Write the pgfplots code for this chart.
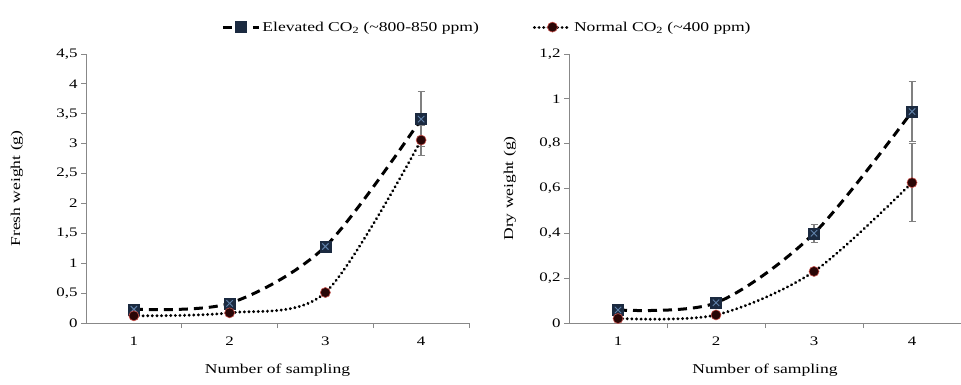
\documentclass[border=0pt]{standalone}
\usepackage{fontspec}
\setmainfont[FakeStretch=1.3]{Liberation Serif}
\usepackage{pgfplots}
\pgfplotsset{compat=1.18}

\definecolor{axgray}{HTML}{888888}
\definecolor{navy}{HTML}{1B2A40}
\definecolor{crossblue}{HTML}{5F80A8}
\definecolor{circfill}{HTML}{2A0606}
\definecolor{circedge}{HTML}{C8504A}
\definecolor{errgray}{HTML}{808080}

\newcommand{\lblfont}{\fontsize{13.5}{16}\selectfont}
\newcommand{\tckfont}{\fontsize{13}{15}\selectfont}

\pgfplotsset{
  mystyle/.style={
    scale only axis, height=269pt, ymin=0, xmin=0.5, xmax=4.5,
    axis lines=left, axis line style={axgray, line width=0.9pt, -},
    tick align=outside,
    xtick={1,2,3,4}, xticklabels={1,2,3,4},
    minor xtick={1.5,2.5,3.5,4.5},
    major tick length=5pt, minor tick length=5pt,
    tick style={axgray, line width=0.8pt},
    major x tick style={draw=none},
    yticklabel style={font=\tckfont, black},
    xticklabel style={font=\tckfont, black, yshift=-5pt},
    every axis x label/.style={at={(axis description cs:0.5,0)}, anchor=center, yshift=-47pt, font=\lblfont},
    clip=false,
  },
  errst/.style={draw=none, mark=none, forget plot,
    error bars/.cd, y dir=both, y explicit,
    error bar style={errgray, line width=1.3pt},
    error mark options={rotate=90, errgray, mark size=3.5pt, line width=1pt}},
  elev/.style={black, line width=3pt, dash pattern=on 9pt off 6pt, smooth, tension=0.5,
    mark=square*, mark size=5.5pt, mark options={solid, fill=navy, draw=navy, line width=0.5pt}},
  elevx/.style={only marks, forget plot, mark=x, mark size=4.5pt, mark options={crossblue, line width=0.9pt}},
  norm/.style={black, line width=3.2pt, line cap=round, dash pattern=on 0.01pt off 4.6pt, smooth, tension=0.5,
    mark=*, mark size=5pt, mark options={solid, fill=circfill, draw=circedge, line width=0.6pt}},
}

\begin{document}
\begin{tikzpicture}
\useasboundingbox (0pt,0pt) rectangle (961pt,384pt);
% ---------- left: fresh weight ----------
\begin{axis}[mystyle, at={(86pt,61pt)}, anchor=south west, width=383pt,
  ymax=4.5, ytick={0,0.5,1,1.5,2,2.5,3,3.5,4,4.5},
  yticklabels={0,{0,5},1,{1,5},2,{2,5},3,{3,5},4,{4,5}},
  xlabel={Number of sampling}, ylabel={Fresh weight (g)},
  every axis y label/.style={at={(axis description cs:0,0.5)}, xshift=-69pt, rotate=90, anchor=center, font=\lblfont},
  legend style={at={(1.047,1.10)}, anchor=center, draw=none, fill=none,
    legend columns=2, font=\lblfont,
    /tikz/every even column/.append style={column sep=52pt},
    legend cell align=left},
  legend image code/.code={\draw[#1] (0pt,0pt) -- (36pt,0pt); \draw[#1, only marks] plot coordinates {(18pt,0pt)};},
  ]
\addplot[errst] coordinates {(4,3.41) +- (0,0.46)};
\addplot[errst] coordinates {(4,3.06) +- (0,0.25)};
\addplot[elev] coordinates {(1,0.23) (2,0.33) (3,1.28) (4,3.41)};
\addlegendentry{Elevated CO\textsubscript{2} (\textasciitilde800-850 ppm)}
\addplot[elevx] coordinates {(1,0.23) (2,0.33) (3,1.28) (4,3.41)};
\addplot[norm] coordinates {(1,0.12) (2,0.17) (3,0.51) (4,3.06)};
\addlegendentry{Normal CO\textsubscript{2} (\textasciitilde400 ppm)}
\end{axis}
% ---------- right: dry weight ----------
\begin{axis}[mystyle, at={(569pt,61pt)}, anchor=south west, width=392pt,
  ymax=1.2, ytick={0,0.2,0.4,0.6,0.8,1,1.2},
  yticklabels={0,{0,2},{0,4},{0,6},{0,8},1,{1,2}},
  xlabel={Number of sampling}, ylabel={Dry weight (g)},
  every axis y label/.style={at={(axis description cs:0,0.5)}, xshift=-59pt, rotate=90, anchor=center, font=\lblfont},
  ]
\addplot[errst] coordinates {(3,0.40) +- (0,0.04) (4,0.943) +- (0,0.134)};
\addplot[errst] coordinates {(4,0.626) +- (0,0.174)};
\addplot[elev] coordinates {(1,0.058) (2,0.09) (3,0.40) (4,0.943)};
\addplot[elevx] coordinates {(1,0.058) (2,0.09) (3,0.40) (4,0.943)};
\addplot[norm] coordinates {(1,0.02) (2,0.036) (3,0.23) (4,0.626)};
\end{axis}
\end{tikzpicture}
\end{document}
